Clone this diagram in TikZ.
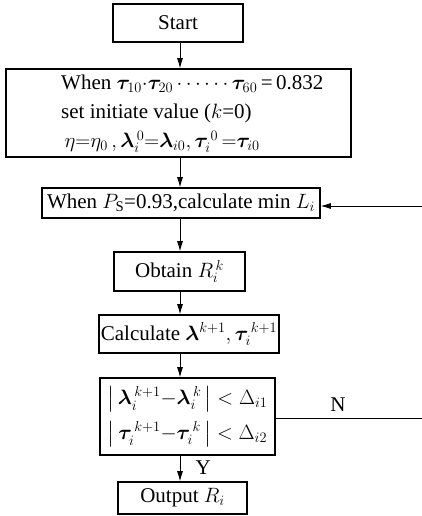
\documentclass[tikz,border=0pt]{standalone}
\usepackage{amsmath,bm}
\usepackage{fontspec}
\setmainfont{Liberation Serif}
\usetikzlibrary{arrows.meta}
\tikzset{
  box/.style={draw, line width=1.6pt, inner sep=2pt, align=center,
    font=\fontsize{21}{29}\selectfont},
  flow/.style={line width=0.8pt, -{Latex[length=10pt,width=6pt]}},
  plainline/.style={line width=0.8pt},
  lbl/.style={font=\fontsize{21}{25}\selectfont}
}
\begin{document}
\begin{tikzpicture}[x=1pt,y=-1pt]
\useasboundingbox (0,0) rectangle (422,516);
\coordinate (spine) at (180,0);
\node[box, minimum width=130pt, minimum height=38pt] (start) at (178,23) {Start};
\node[box, minimum width=345pt, minimum height=88pt] (init) at (178.5,113) {};
\node[anchor=west, inner sep=0pt, align=left, font=\fontsize{21}{29}\selectfont] (inittext) at (61,114)
 {When $\bm{\tau}_{10}{\cdot}\bm{\tau}_{20}\,{\cdots\cdots}\,\bm{\tau}_{60}$\,=\,0.832\\
  set initiate value ($k$=0)\\
  $\,\eta{=}\eta_0\,,\bm{\lambda}_i^{\,0}{=}\bm{\lambda}_{i0},\bm{\tau}_i^{\,0}\,{=}\bm{\tau}_{i0}$};
\node[box, minimum width=278pt, minimum height=30pt] (minL) at (181,203)
 {When $P_{\mathrm{S}}$=0.93,calculate min $L_i$};
\node[box, minimum width=131pt, minimum height=39pt] (obtain) at (179.5,271.5)
 {Obtain $R_i^{\,k}$};
\node[box, minimum width=178pt, minimum height=38pt] (calc) at (189,334)
 {Calculate $\bm{\lambda}^{k+1}, \bm{\tau}_i^{\,k+1}$};
\node[box, minimum width=175pt, minimum height=77pt, font=\fontsize{21}{35}\selectfont] (check) at (187.5,416.5)
 {$\bigl|\,\bm{\lambda}_i^{\,k+1}{-}\bm{\lambda}_i^{\,k}\,\bigr|<\Delta_{i1}$\\
  $\bigl|\,\bm{\tau}_i^{\,k+1}{-}\bm{\tau}_i^{\,k}\,\bigr|<\Delta_{i2}$};
\node[box, minimum width=129pt, minimum height=32pt] (output) at (182.5,498)
 {Output $R_i$};
\coordinate (inR) at (422,206);
\coordinate (outR) at (422,418);
\draw[flow] (start.south -| spine) -- (init.north -| spine);
\draw[flow] (init.south -| spine) -- (minL.north -| spine);
\draw[flow] (minL.south -| spine) -- (obtain.north -| spine);
\draw[flow] (obtain.south -| spine) -- (calc.north -| spine);
\draw[flow] (calc.south -| spine) -- (check.north -| spine);
\draw[flow] (check.south -| spine) -- (output.north -| spine) node[lbl, pos=0.45, right=12pt] (ylab) {Y};
\draw[flow] (inR) -- (inR -| minL.east);
\draw[plainline] (outR -| check.east) -- (outR);
\node[lbl] (nlab) at (338,405) {N};
\end{tikzpicture}
\end{document}
